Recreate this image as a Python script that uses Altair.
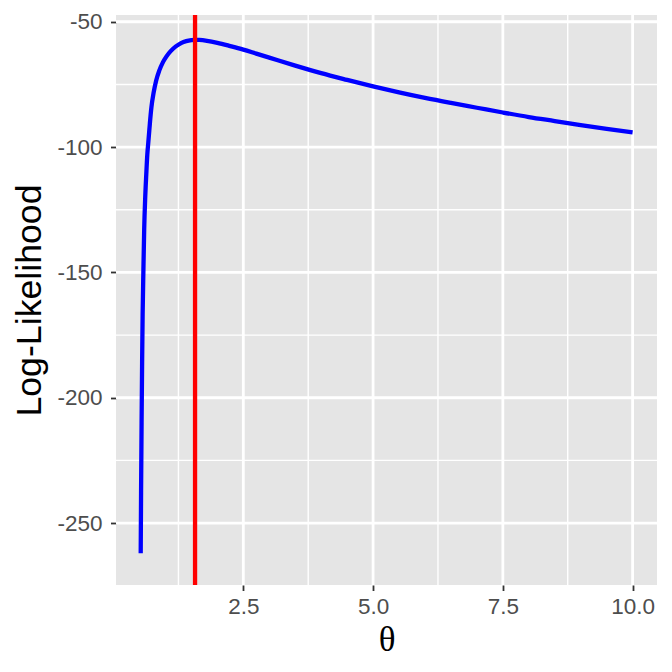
import altair as alt
import pandas as pd

# Curve values
theta = [0.523, 0.53, 0.54, 0.55, 0.56, 0.575, 0.59, 0.61, 0.63, 0.65, 0.67, 0.69,
         0.70, 0.73, 0.77, 0.82, 0.88, 0.95, 1.02, 1.10, 1.20, 1.30, 1.40, 1.50,
         1.57, 1.65, 1.80, 2.00, 2.25, 2.50, 2.75, 3.00, 3.50, 4.00, 4.50, 5.00,
         5.50, 6.00, 6.50, 7.00, 7.50, 8.00, 8.50, 9.00, 9.50, 10.0]
loglik = [-262, -238, -210, -186, -167, -149, -133, -120, -111, -103, -98, -93,
          -90.5, -84, -78.5, -73.5, -69.5, -66.2, -63.8, -61.7, -59.8, -58.5, -57.7, -57.3,
          -57.2, -57.25, -57.6, -58.4, -59.7, -61.1, -62.7, -64.3, -67.5, -70.5, -73.2, -75.8,
          -78.2, -80.4, -82.4, -84.3, -86.2, -88.0, -89.6, -91.2, -92.7, -94.1]
mle = [1.57]

x_major = [2.5, 5.0, 7.5, 10.0]
x_minor = [1.25, 3.75, 6.25, 8.75]
y_major = [-50, -100, -150, -200, -250]
y_minor = [-75, -125, -175, -225]

x_domain = [0.047, 10.47]
y_domain = [-274.7, -47.3]

curve_df = pd.DataFrame({"theta": theta, "ll": loglik})

xs = alt.Scale(domain=x_domain, nice=False, zero=False)
ys = alt.Scale(domain=y_domain, nice=False, zero=False)

common_axis = dict(
    grid=False, domain=False, tickColor="#333333", tickWidth=1.8, tickSize=5.5,
    labelColor="#4D4D4D", labelFont="Liberation Sans", labelFontSize=22.5,
    titleColor="#000000", titleFontWeight="normal",
)
x_axis = alt.Axis(values=x_major, format=".1f", labelPadding=5,
                  title="θ", titleFont="Liberation Serif", titleFontSize=35,
                  titleX=270.5, titleY=65.5,
                  titleBaseline="alphabetic", titleAlign="center", **common_axis)
y_axis = alt.Axis(values=y_major, labelExpr="'' + datum.value", labelPadding=8.5,
                  title="Log-Likelihood", titleFont="Liberation Sans", titleFontSize=35.7,
                  titleX=-76, titleY=285,
                  titleAngle=270, titleBaseline="alphabetic", titleAlign="center",
                  **common_axis)

grid_color = "#FFFFFF"

xmin_rule = alt.Chart(pd.DataFrame({"v": x_minor})).mark_rule(
    color=grid_color, strokeWidth=1.4).encode(x=alt.X("v:Q", scale=xs, axis=x_axis, title="θ"))
ymin_rule = alt.Chart(pd.DataFrame({"v": y_minor})).mark_rule(
    color=grid_color, strokeWidth=1.4).encode(y=alt.Y("v:Q", scale=ys, axis=y_axis, title="Log-Likelihood"))
xmaj_rule = alt.Chart(pd.DataFrame({"v": x_major})).mark_rule(
    color=grid_color, strokeWidth=2.8).encode(x=alt.X("v:Q", scale=xs, axis=x_axis, title="θ"))
ymaj_rule = alt.Chart(pd.DataFrame({"v": y_major})).mark_rule(
    color=grid_color, strokeWidth=2.8).encode(y=alt.Y("v:Q", scale=ys, axis=y_axis, title="Log-Likelihood"))

curve = alt.Chart(curve_df).mark_line(color="#0000FF", strokeWidth=4.3, interpolate="monotone").encode(
    x=alt.X("theta:Q", scale=xs, axis=x_axis, title="θ"),
    y=alt.Y("ll:Q", scale=ys, axis=y_axis, title="Log-Likelihood"),
)

vline = alt.Chart(pd.DataFrame({"m": mle})).mark_rule(color="#FF0000", strokeWidth=4.3).encode(
    x=alt.X("m:Q", scale=xs, axis=x_axis, title="θ"))

chart = alt.layer(xmin_rule, ymin_rule, xmaj_rule, ymaj_rule, curve, vline).properties(
    width=541, height=570,
    autosize=alt.AutoSizeParams(type="none"),
    padding={"left": 108, "top": 7, "right": 7, "bottom": 75},
    background="#FFFFFF",
).configure_view(fill="#E5E5E5", stroke=None)

chart.save("out.html", embed_options={"renderer": "svg", "actions": False})
